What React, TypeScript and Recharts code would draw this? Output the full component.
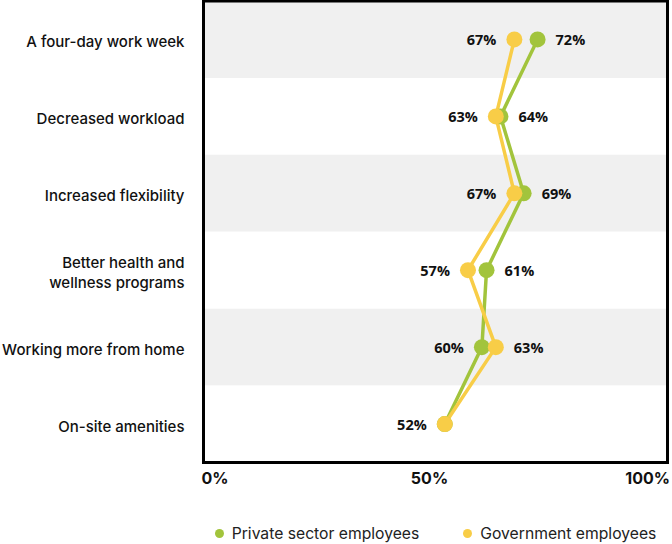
import React from 'react';
import {
  ComposedChart,
  Bar,
  Cell,
  Line,
  LabelList,
  XAxis,
  YAxis,
  Legend,
  ReferenceArea,
} from 'recharts';

const categories = [
  'A four-day work week',
  'Decreased workload',
  'Increased flexibility',
  'Better health and wellness programs',
  'Working more from home',
  'On-site amenities',
];
const privateSector = [72, 64, 69, 61, 60, 52];
const government = [67, 63, 67, 57, 63, 52];
const xTicks = [0, 50, 100];

const GREEN = '#a2c43c';
const GOLD = '#f8cd47';
const FONT = 'Inter, "Noto Sans", sans-serif';

const series = [
  { key: 'priv', name: 'Private sector employees', color: GREEN },
  { key: 'gov', name: 'Government employees', color: GOLD },
];

const rows = categories.map((category, i) => ({
  category,
  priv: privateSector[i],
  gov: government[i],
  band: xTicks[xTicks.length - 1],
}));

// split long labels at the space closest to the middle
const splitLabel = (s: string): string[] => {
  if (s.length <= 24) return [s];
  const mid = s.length / 2;
  let best = -1;
  for (let i = 0; i < s.length; i++) {
    if (s[i] === ' ' && (best < 0 || Math.abs(i - mid) < Math.abs(best - mid))) best = i;
  }
  return best < 0 ? [s] : [s.slice(0, best), s.slice(best + 1)];
};

const YTick = (props: any) => {
  const { x, y, payload } = props;
  const lines = splitLabel(payload.value);
  const start = -((lines.length - 1) * 20) / 2 + 2;
  return (
    <text x={x} y={y} textAnchor="end" fill="#111" fontFamily={FONT} fontSize={15} fontWeight={500}>
      {lines.map((l, i) => (
        <tspan key={i} x={x} y={y + start + i * 20} dominantBaseline="central">
          {l}
        </tspan>
      ))}
    </text>
  );
};

const XTick = (props: any) => {
  const { x, y, payload } = props;
  const v = payload.value;
  const first = v === xTicks[0];
  const last = v === xTicks[xTicks.length - 1];
  return (
    <text
      x={x + (first ? -2 : last ? 2.5 : -6)}
      y={y}
      textAnchor={first ? 'start' : last ? 'end' : 'middle'}
      dominantBaseline="central"
      fill="#111"
      fontFamily={FONT}
      fontSize={16}
      fontWeight={700}
    >
      {v}%
    </text>
  );
};

const makeLabel = (own: number[], other: number[], showOnTie: boolean) => (props: any) => {
  const { x, y, index } = props;
  const v = own[index];
  const o = other[index];
  if (v === o && !showOnTie) return null;
  const right = v > o;
  return (
    <text
      x={right ? x + 18 : x - 18}
      y={y}
      textAnchor={right ? 'start' : 'end'}
      dominantBaseline="central"
      fill="#111"
      fontFamily='"Open Sans", sans-serif'
      fontSize={14.5}
      fontWeight={700}
    >
      {v}%
    </text>
  );
};

const LegendContent = () => (
  <div
    style={{
      display: 'flex',
      justifyContent: 'center',
      alignItems: 'center',
      gap: 44,
      height: 22,
      fontFamily: FONT,
      fontSize: 15.7,
      color: '#222',
    }}
  >
    {series.map((s) => (
      <div key={s.key} style={{ display: 'flex', alignItems: 'center', gap: 8 }}>
        <span style={{ width: 9, height: 9, borderRadius: '50%', background: s.color, display: 'inline-block' }} />
        <span>{s.name}</span>
      </div>
    ))}
  </div>
);

export default function App() {
  return (
    <div style={{ position: 'absolute', left: 0, top: 0, width: 672, height: 544, background: '#fff' }}>
      <ComposedChart
        width={672}
        height={544}
        data={rows}
        layout="vertical"
        margin={{ top: 1, right: 4.5, bottom: 0, left: 0 }}
        barCategoryGap={0}
        barGap={0}
      >
        <XAxis
          type="number"
          domain={[0, 100]}
          ticks={xTicks}
          interval={0}
          axisLine={false}
          tickLine={false}
          tickSize={0}
          tickMargin={15}
          height={59.5}
          tick={XTick}
        />
        <YAxis
          type="category"
          dataKey="category"
          width={203.5}
          interval={0}
          axisLine={false}
          tickLine={false}
          tickSize={0}
          tickMargin={19}
          tick={YTick}
        />
        <Bar dataKey="band" isAnimationActive={false} legendType="none">
          {rows.map((_, i) => (
            <Cell key={i} fill={i % 2 === 0 ? '#f0f0f0' : '#ffffff'} />
          ))}
        </Bar>
        <Line
          dataKey="priv"
          name={series[0].name}
          type="linear"
          stroke={GREEN}
          strokeWidth={3.5}
          dot={{ r: 8, fill: GREEN, stroke: GREEN, strokeWidth: 0 }}
          activeDot={false}
          isAnimationActive={false}
        >
          <LabelList dataKey="priv" content={makeLabel(privateSector, government, false)} />
        </Line>
        <Line
          dataKey="gov"
          name={series[1].name}
          type="linear"
          stroke={GOLD}
          strokeWidth={3.5}
          dot={{ r: 8, fill: GOLD, stroke: GOLD, strokeWidth: 0 }}
          activeDot={false}
          isAnimationActive={false}
        >
          <LabelList dataKey="gov" content={makeLabel(government, privateSector, true)} />
        </Line>
        <ReferenceArea
          x1={0}
          x2={100}
          y1={categories[0]}
          y2={categories[categories.length - 1]}
          ifOverflow="visible"
          fill="none"
          fillOpacity={0}
          stroke="#000"
          strokeWidth={3}
          zIndex={2000}
        />
        <Legend verticalAlign="bottom" content={LegendContent} wrapperStyle={{ left: 203.5, width: 464 }} />
      </ComposedChart>
    </div>
  );
}
